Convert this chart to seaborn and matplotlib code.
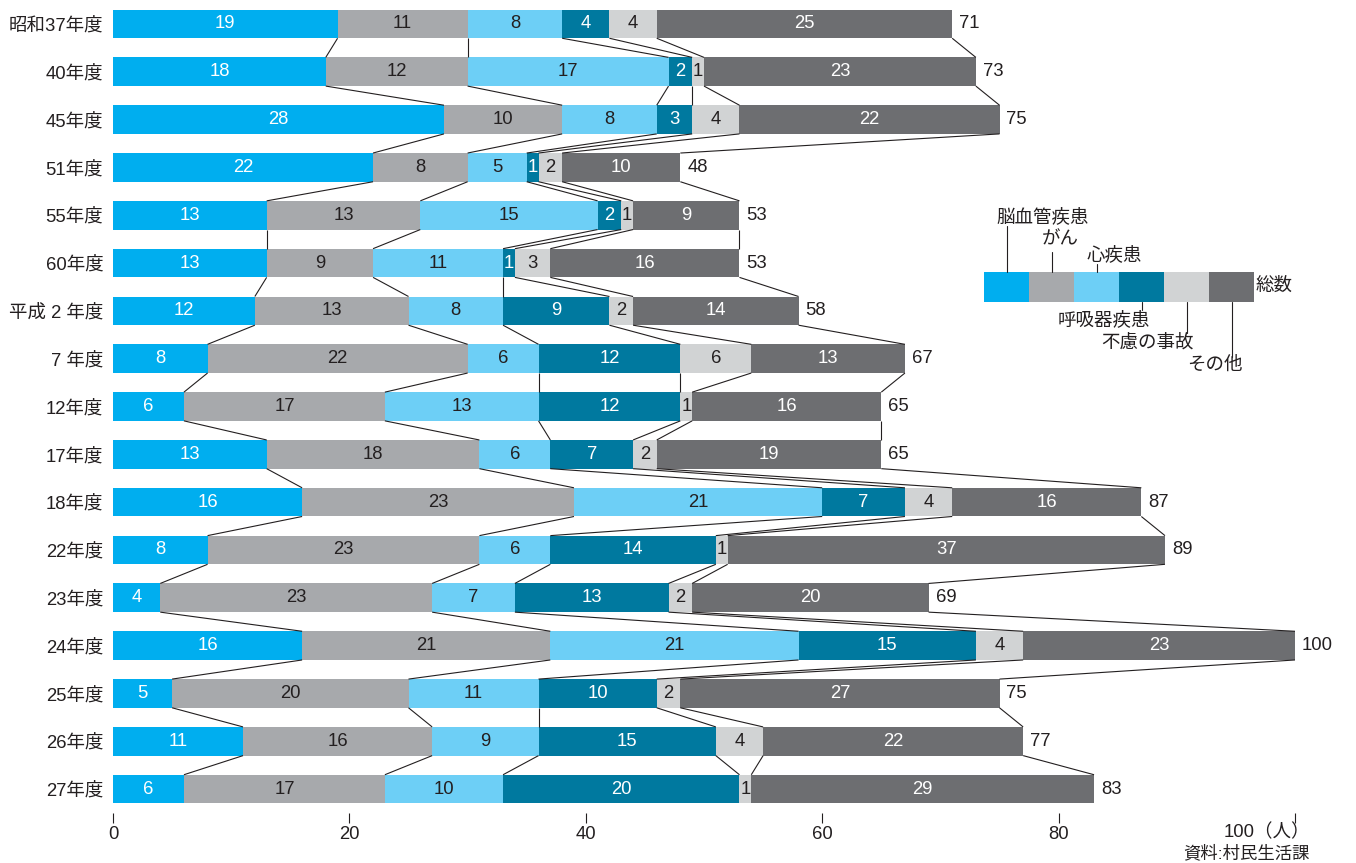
import numpy as np
import seaborn as sns
import matplotlib.pyplot as plt

years = ['昭和37年度', '40年度', '45年度', '51年度', '55年度', '60年度', '平成 2 年度',
         '7 年度', '12年度', '17年度', '18年度', '22年度', '23年度', '24年度',
         '25年度', '26年度', '27年度']
stroke = [19, 18, 28, 22, 13, 13, 12, 8, 6, 13, 16, 8, 4, 16, 5, 11, 6]
cancer = [11, 12, 10, 8, 13, 9, 13, 22, 17, 18, 23, 23, 23, 21, 20, 16, 17]
heart = [8, 17, 8, 5, 15, 11, 8, 6, 13, 6, 21, 6, 7, 21, 11, 9, 10]
resp = [4, 2, 3, 1, 2, 1, 9, 12, 12, 7, 7, 14, 13, 15, 10, 15, 20]
accident = [4, 1, 4, 2, 1, 3, 2, 6, 1, 2, 4, 1, 2, 4, 2, 4, 1]
other = [25, 23, 22, 10, 9, 16, 14, 13, 16, 19, 16, 37, 20, 23, 27, 22, 29]

cause_names = ['脳血管疾患', 'がん', '心疾患', '呼吸器疾患', '不慮の事故', 'その他']
colors = ['#00aeef', '#a7a9ac', '#6dcff6', '#00799f', '#d1d3d4', '#6d6e71']
text_colors = ['white', '#231f20', '#231f20', 'white', '#231f20', 'white']
dark = '#231f20'

sns.set_theme(style='white')
# Helvetica-like digits, CJK from Noto
plt.rcParams['font.family'] = ['Liberation Sans', 'Noto Sans CJK JP', 'DejaVu Sans']
FS = 13.3

series = np.array([stroke, cancer, heart, resp, accident, other])
cum = series.cumsum(axis=0)
totals = cum[-1]

fig = plt.figure(figsize=(13.56, 8.63), dpi=100)
ax = fig.add_axes([113 / 1356, 50 / 863, 1182 / 1356, 813 / 863])

# stacked bars: draw cumulative sums from the longest down
for k in range(5, -1, -1):
    sns.barplot(x=cum[k], y=years, orient='h', color=colors[k], width=0.6,
                saturation=1, errorbar=None, ax=ax, linewidth=0)

ax.set_xlim(0, 100)
ax.set_ylim(16.5, -0.5)
ax.set_xlabel('')
ax.set_ylabel('')
for s in ax.spines.values():
    s.set_visible(False)

# segment labels
for i in range(len(years)):
    left = 0
    for k in range(6):
        v = series[k][i]
        ax.text(left + v / 2, i, str(v), ha='center', va='center',
                color=text_colors[k], fontsize=FS)
        left += v
    ax.annotate(str(totals[i]), (totals[i], i), xytext=(5, 0),
                textcoords='offset points', ha='left', va='center',
                color=dark, fontsize=FS, annotation_clip=False)

# connecting lines between bars
for i in range(len(years) - 1):
    for k in range(6):
        ax.plot([cum[k][i], cum[k][i + 1]], [i + 0.3, i + 0.7],
                color=dark, lw=0.8, solid_capstyle='butt')

ax.set_xticks([0, 20, 40, 60, 80, 100])
ax.set_xticklabels(['0', '20', '40', '60', '80', ''])
ax.tick_params(axis='x', direction='out', length=7, width=0.8, color=dark,
               pad=2, labelsize=FS, labelcolor=dark, bottom=True)
ax.tick_params(axis='y', length=0, pad=7, labelsize=FS, labelcolor=dark)
ax.text(101.3, -0.0234, '100（人）', transform=ax.get_xaxis_transform(),
        ha='right', va='center', fontsize=FS, color=dark)
fig.text(1310 / 1356, 1 - 853 / 863, '資料:村民生活課', ha='right', va='center',
         fontsize=12.5, color=dark)

# legend
leg = fig.add_axes([984 / 1356, (863 - 301.7) / 863, 270 / 1356, 30 / 863])
for k in range(6):
    leg.barh(0.5, 1, left=k, height=1, color=colors[k], linewidth=0)
leg.set_xlim(0, 6)
leg.set_ylim(0, 1)
leg.axis('off')
leader = [(0.5, 1, 2.51, 1.3, 2.83), (1.5, 1, 1.67, 1.7, 2.06),
          (2.5, 1, 1.26, 2.9, 1.56), (3.5, 0, -0.28, 2.67, -0.63),
          (4.5, 0, -1.04, 3.64, -1.37), (5.5, 0, -1.83, 5.13, -2.11)]
for name, (lx, y0, y1, tx, ty) in zip(cause_names, leader):
    leg.plot([lx, lx], [y0, y1], color=dark, lw=0.8, clip_on=False)
    leg.text(tx, ty, name, ha='center', va='center', fontsize=FS, color=dark,
             clip_on=False)
leg.text(6.04, 0.5, '総数', ha='left', va='center', fontsize=FS, color=dark)

fig.savefig('out.png', dpi=100)
